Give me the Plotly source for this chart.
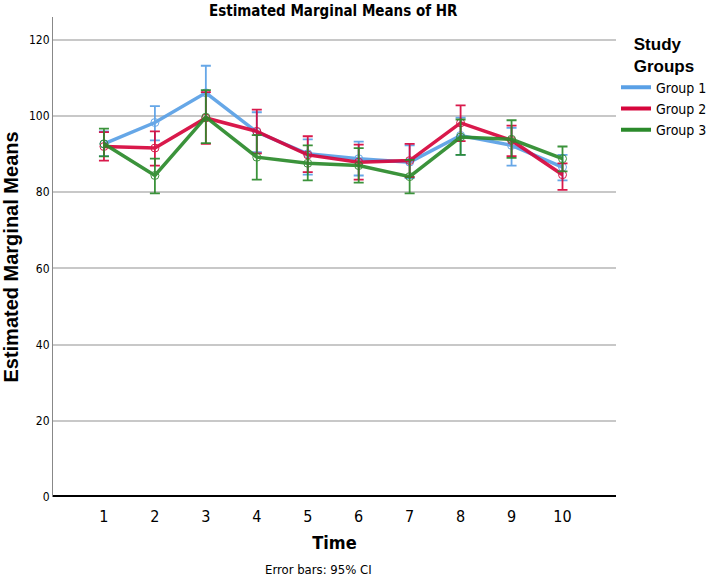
import plotly.graph_objects as go

time = [1, 2, 3, 4, 5, 6, 7, 8, 9, 10]
groups = ["Group 1", "Group 2", "Group 3"]
colors = ["#5aa0e6", "#d6063c", "#2b8a2b"]

means = {
    "Group 1": [92.7, 98.3, 106.1, 95.8, 90.1, 88.8, 87.9, 94.9, 92.3, 86.6],
    "Group 2": [92.0, 91.6, 99.5, 96.0, 89.8, 87.9, 88.3, 98.2, 93.6, 84.6],
    "Group 3": [92.7, 84.4, 99.7, 89.2, 87.6, 87.0, 84.1, 94.5, 93.9, 88.8],
}
upper = {
    "Group 1": [96.0, 102.6, 113.2, 101.0, 93.9, 93.3, 92.3, 99.6, 96.9, 89.8],
    "Group 2": [95.8, 96.0, 106.3, 101.7, 94.7, 92.5, 92.7, 102.8, 97.5, 87.6],
    "Group 3": [96.7, 88.8, 106.8, 95.0, 92.3, 91.6, 88.5, 99.1, 98.9, 92.0],
}
lower = {
    "Group 1": [89.5, 93.6, 99.0, 90.5, 84.6, 84.4, 83.7, 89.8, 87.0, 83.1],
    "Group 2": [88.3, 87.0, 92.7, 90.2, 85.3, 83.3, 84.0, 93.4, 89.5, 80.6],
    "Group 3": [89.4, 79.7, 92.9, 83.3, 83.1, 82.5, 79.7, 89.8, 89.0, 85.5],
}

font_family = "Liberation Sans Narrow, DejaVu Sans Condensed, Arial Narrow, Liberation Sans, sans-serif"
bold_family = "Liberation Sans, Arial, sans-serif"

fig = go.Figure()
for g, c in zip(groups, colors):
    m = means[g]
    fig.add_trace(go.Scatter(
        x=time, y=m, mode="lines+markers", name=g, showlegend=False,
        line=dict(color=c, width=3.5),
        marker=dict(symbol="circle-open", size=8, color=c, line=dict(width=1)),
        opacity=0.92,
        error_y=dict(type="data", symmetric=False,
                     array=[u - v for u, v in zip(upper[g], m)],
                     arrayminus=[v - l for v, l in zip(m, lower[g])],
                     color=c, thickness=1.8, width=5),
    ))
for g, c in zip(groups, colors):
    fig.add_trace(go.Scatter(
        x=[None], y=[None], mode="lines", name=g,
        line=dict(color=c, width=4),
    ))

fig.update_layout(
    width=706, height=580,
    paper_bgcolor="white", plot_bgcolor="white",
    margin=dict(l=53, r=90, t=17, b=83, autoexpand=False),
    font=dict(family=font_family, color="black"),
    title=dict(text="<b>Estimated Marginal Means of HR</b>", x=0.472, xanchor="center",
               y=0.982, yanchor="middle", font=dict(size=15, family=font_family)),
    xaxis=dict(range=[0, 11.05], tickvals=time, ticktext=[str(t) for t in time],
               showgrid=False, zeroline=False, ticks="outside", ticklen=5,
               tickcolor="rgba(0,0,0,0)", showline=False, automargin=False,
               tickfont=dict(size=16, family=font_family),
               title=dict(text="<b>Time</b>", font=dict(size=18, family=font_family), standoff=11)),
    yaxis=dict(range=[0, 126], tickvals=[0, 20, 40, 60, 80, 100, 120],
               showgrid=True, gridcolor="#c8c8c8", gridwidth=2, zeroline=False,
               showline=True, linecolor="#888888", linewidth=1, ticks="", automargin=False,
               tickfont=dict(size=12, family=font_family),
               title=dict(text="<b>Estimated Marginal Means</b>",
                          font=dict(size=20, family=bold_family), standoff=9)),
    legend=dict(x=1.0, xanchor="left", y=0.978, yanchor="top",
                title=dict(text="<b>Study<br>Groups</b>", side="top center",
                           font=dict(size=17, family=bold_family)),
                font=dict(size=14, family=font_family), itemwidth=30,
                tracegroupgap=0),
    shapes=[dict(type="line", xref="paper", yref="y", x0=0, x1=1, y0=0, y1=0,
                 line=dict(color="black", width=4))],
    annotations=[dict(text="Error bars: 95% CI", xref="paper", yref="paper",
                      x=0.472, y=-0.152, xanchor="center", yanchor="middle",
                      showarrow=False, font=dict(size=13, family=font_family))],
)

fig.write_html("out.html", config={"displayModeBar": False},
               post_script="document.body.style.margin='0px';")
